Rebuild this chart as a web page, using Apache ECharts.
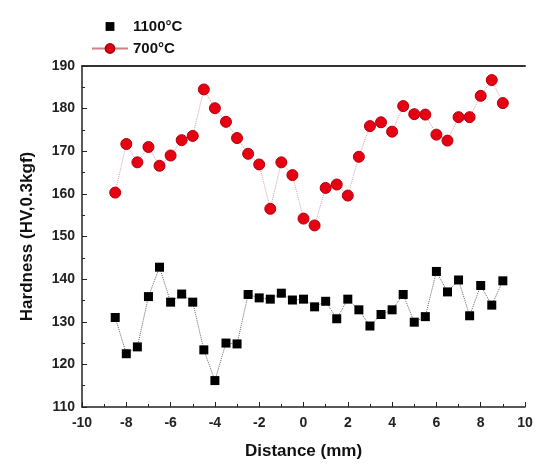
<!DOCTYPE html>
<html>
<head>
<meta charset="utf-8">
<script src="https://cdn.jsdelivr.net/npm/echarts@6/dist/echarts.min.js"></script>
<style>
  html, body { margin: 0; padding: 0; background: #fff; }
  #chart { width: 547px; height: 465px; }
</style>
</head>
<body>
<div id="chart"></div>
<script>
// distance positions (mm)
let distance = [
    -8.5, -8, -7.5, -7, -6.5, -6, -5.5, -5, -4.5, -4, -3.5, -3, -2.5, -2, -1.5, -1, -0.5, 0,
    0.5, 1, 1.5, 2, 2.5, 3, 3.5, 4, 4.5, 5, 5.5, 6, 6.5, 7, 7.5, 8, 8.5, 9
];

// hardness values
let hv1100 = [
    131.0, 122.5, 124.1, 135.9, 142.8, 134.6, 136.5, 134.6, 123.4, 116.2, 125.0, 124.8, 136.4, 135.6, 135.3, 136.7, 135.1, 135.3,
    133.5, 134.8, 130.7, 135.3, 132.8, 129.0, 131.7, 132.8, 136.4, 129.9, 131.2, 141.8, 137.0, 139.8, 131.4, 138.5, 133.9, 139.6
];
let hv700 = [
    160.3, 171.7, 167.4, 171.0, 166.6, 169.0, 172.6, 173.6, 184.5, 180.1, 176.9, 173.1, 169.4, 166.9, 156.5, 167.4, 164.4, 154.2,
    152.6, 161.4, 162.2, 159.6, 168.7, 175.9, 176.8, 174.6, 180.6, 178.7, 178.6, 173.9, 172.5, 178.0, 178.0, 183.0, 186.7, 181.3
];

let chart = echarts.init(document.getElementById('chart'));

function pairs(ys) {
    return distance.map(function (x, i) { return [x, ys[i]]; });
}

let labelFont = {
    fontFamily: 'Liberation Sans',
    fontWeight: 'bold',
    fontSize: 14,
    color: '#222'
};

let options = {
    backgroundColor: '#fff',
    animation: false,
    legend: {
        orient: 'vertical',
        left: 86,
        top: 14,
        itemGap: 7,
        itemWidth: 36,
        itemHeight: 11,
        textStyle: {
            fontFamily: 'Liberation Sans',
            fontWeight: 'bold',
            fontSize: 15,
            color: '#111'
        },
        data: [
            { name: '1100°C', lineStyle: { opacity: 0 } },
            { name: '700°C', lineStyle: { type: 'solid', color: '#d08080' } }
        ]
    },
    grid: {
        left: 82,
        right: 22,
        top: 66,
        bottom: 57
    },
    xAxis: [
        {
            type: 'value',
            min: -10,
            max: 10,
            interval: 2,
            name: 'Distance (mm)',
            nameLocation: 'middle',
            nameGap: 36,
            nameTextStyle: {
                fontFamily: 'Liberation Sans',
                fontWeight: 'bold',
                fontSize: 17,
                color: '#111'
            },
            axisLine: { onZero: false, lineStyle: { color: '#222', width: 1.5 } },
            axisTick: { inside: true, length: 5, lineStyle: { color: '#222' } },
            minorTick: { show: true, splitNumber: 2, length: 3, lineStyle: { color: '#222' } },
            axisLabel: Object.assign({ margin: 9 }, labelFont),
            splitLine: { show: false }
        },
        {
            type: 'value',
            position: 'top',
            min: -10,
            max: 10,
            axisLine: { show: true, onZero: false, lineStyle: { color: '#333', width: 2 } },
            axisTick: { show: false },
            axisLabel: { show: false },
            splitLine: { show: false }
        }
    ],
    yAxis: {
        type: 'value',
        min: 110,
        max: 190,
        interval: 10,
        name: 'Hardness (HV,0.3kgf)',
        nameLocation: 'middle',
        nameGap: 46,
        nameTextStyle: {
            fontFamily: 'Liberation Sans',
            fontWeight: 'bold',
            fontSize: 17,
            color: '#111'
        },
        axisLine: { show: true, onZero: false, lineStyle: { color: '#222', width: 1.5 } },
        axisTick: { inside: true, length: 5, lineStyle: { color: '#222' } },
        minorTick: { show: true, splitNumber: 2, length: 3, lineStyle: { color: '#222' } },
        axisLabel: Object.assign({ margin: 7 }, labelFont),
        splitLine: { show: false }
    },
    series: [
        {
            name: '1100°C',
            type: 'line',
            data: pairs(hv1100),
            symbol: 'rect',
            symbolSize: 9,
            itemStyle: { color: '#000' },
            lineStyle: { color: '#666', width: 1, type: 'dotted' }
        },
        {
            name: '700°C',
            type: 'line',
            data: pairs(hv700),
            symbol: 'circle',
            symbolSize: 11,
            itemStyle: { color: '#e60012', borderColor: '#b0000c', borderWidth: 1 },
            lineStyle: { color: '#d9a0a0', width: 1, type: 'dotted' }
        }
    ]
};

chart.setOption(options);
</script>
</body>
</html>
